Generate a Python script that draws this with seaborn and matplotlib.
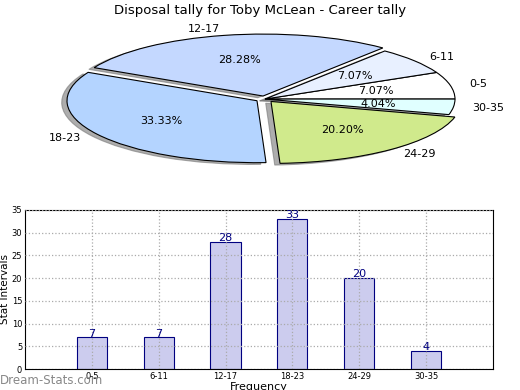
import matplotlib
matplotlib.use("Agg")
import matplotlib.pyplot as plt
import seaborn as sns

# tally data
bins = ["0-5", "6-11", "12-17", "18-23", "24-29", "30-35"]
counts = [7, 7, 28, 33, 20, 4]
pie_colors = ["#ffffff", "#e8f0ff", "#c4d8ff", "#b4d4ff", "#d0ea8c", "#e0ffff"]
explode = [0, 0, 0.05, 0.05, 0.05, 0]

sns.set_style("white")
plt.rcParams["font.family"] = ["DejaVu Sans"]
plt.rcParams["text.color"] = "black"
plt.rcParams["axes.labelcolor"] = "black"
plt.rcParams["xtick.color"] = "black"
plt.rcParams["ytick.color"] = "black"

fig = plt.figure(figsize=(5.2, 3.9), dpi=100)

# pie on top, squashed into a wide axes
ax1 = fig.add_axes([0.0346, 0.5395, 0.95, 0.413])
ax1.pie(counts, labels=bins, colors=pie_colors, explode=explode,
        autopct="%.2f%%", pctdistance=0.6, labeldistance=1.1,
        startangle=0, counterclock=True,
        shadow={"ox": -0.02, "oy": -0.02, "facecolor": "#777777",
                "edgecolor": "#777777", "alpha": 0.6},
        wedgeprops={"edgecolor": "black", "linewidth": 0.8},
        textprops={"fontsize": 8, "color": "black"})
ax1.set_aspect("auto")
ax1.set_xlim(-1.3, 1.3)
ax1.set_ylim(-1.3, 1.3)
ax1.axis("off")
fig.text(0.5, 0.973, "Disposal tally for Toby McLean - Career tally",
         ha="center", va="center", fontsize=9.5)

# bar chart below
ax2 = fig.add_axes([0.048, 0.0538, 0.9, 0.408])
sns.barplot(x=bins, y=counts, color="#ccccee", edgecolor="navy",
            linewidth=0.8, width=0.45, saturation=1, ax=ax2)
ax2.bar_label(ax2.containers[0], color="navy", fontsize=8, padding=-1)
ax2.set_xlim(-1, 6)
ax2.set_ylim(0, 35)
ax2.set_yticks(range(0, 36, 5))
ax2.tick_params(labelsize=6, length=2, direction="in", pad=2)
ax2.grid(True, linestyle=":", color="#aaaaaa", linewidth=0.9)
ax2.set_axisbelow(False)
for s in ax2.spines.values():
    s.set_color("black")
    s.set_linewidth(0.8)
ax2.set_ylabel("Stat Intervals", fontsize=7.5)
ax2.yaxis.set_label_coords(-0.033, 0.5)
ax2.set_xlabel("Frequency", fontsize=8, labelpad=1)

fig.text(0.0, 0.024, "Dream-Stats.com", color="#888888", fontsize=8.5,
         ha="left", va="center")

fig.savefig("out.png", dpi=100)
